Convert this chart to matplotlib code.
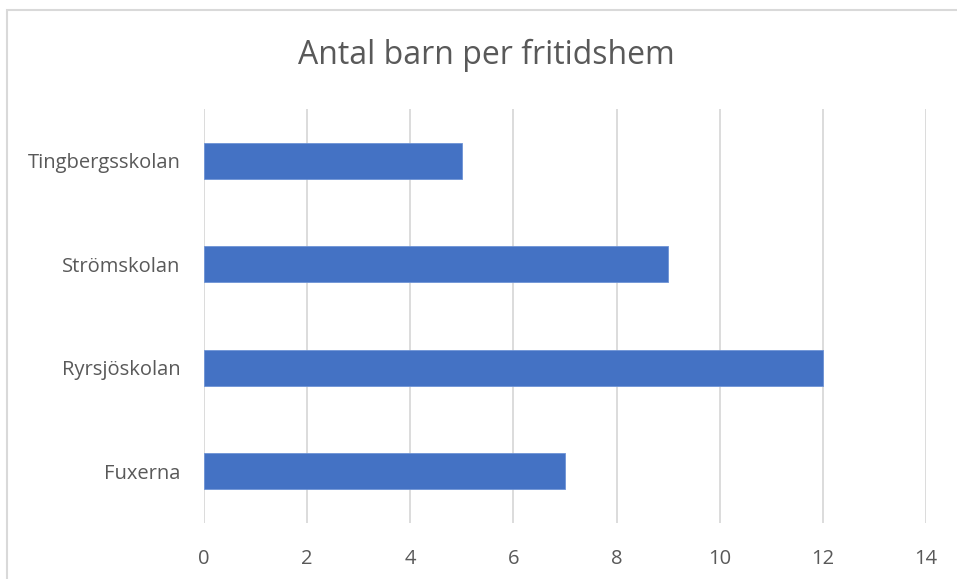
import matplotlib.pyplot as plt
from matplotlib.patches import Rectangle

# data
skolor = ["Fuxerna", "Ryrsjöskolan", "Strömskolan", "Tingbergsskolan"]
antal_barn = [7, 12, 9, 5]
x_ticks = [0, 2, 4, 6, 8, 10, 12, 14]

plt.rcParams['font.family'] = ['Open Sans', 'DejaVu Sans']
text_color = '#595959'

fig = plt.figure(figsize=(9.57, 5.79), dpi=100)
ax = fig.add_axes([204 / 957, 1 - 523 / 579, (926 - 204) / 957, (523 - 109) / 579])

# ram runt diagrammet
fig.patches.append(Rectangle((7 / 957, -0.1), 1.2, 1 - 10 / 579 + 0.1,
                             transform=fig.transFigure, fill=False,
                             edgecolor='#D9D9D9', linewidth=1.5))

ax.barh(range(len(skolor)), antal_barn, height=0.35, color='#4472C4',
        edgecolor='#6E93D6', linewidth=0.6, zorder=3)

ax.set_xlim(0, 14)
ax.set_ylim(-0.5, len(skolor) - 0.5)
ax.set_xticks(x_ticks)
ax.set_yticks(range(len(skolor)))
ax.set_yticklabels(skolor)
ax.grid(axis='x', color='#D9D9D9', linewidth=1.3, zorder=0)
for s in ax.spines.values():
    s.set_visible(False)
ax.tick_params(axis='both', length=0, labelsize=14.5, labelcolor=text_color)
ax.tick_params(axis='y', pad=17)
ax.tick_params(axis='x', pad=18.5)

fig.text(486 / 957, 1 - 55 / 579, "Antal barn per fritidshem", ha='center', va='center',
         fontsize=23, color=text_color)

fig.savefig("out.png", dpi=100)
